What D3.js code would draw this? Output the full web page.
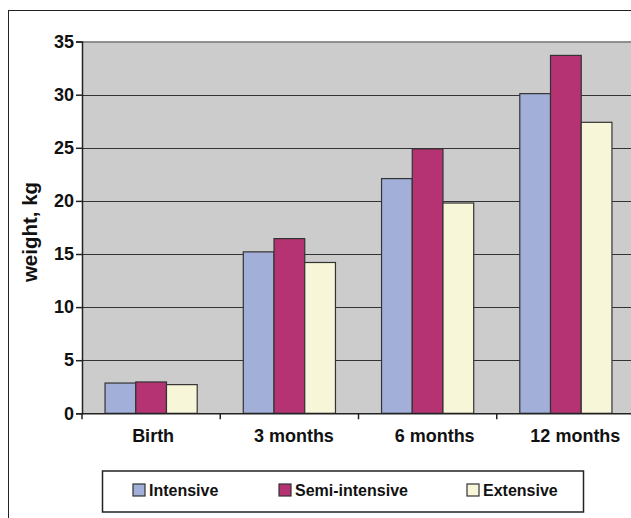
<!DOCTYPE html>
<html>
<head>
<meta charset="utf-8">
<script src="https://cdn.jsdelivr.net/npm/d3@7"></script>
<style>
  html, body { margin: 0; padding: 0; background: #fff; }
  svg { display: block; }
  text { font-family: Arial, "Liberation Sans", sans-serif; font-weight: bold; fill: #111; }
</style>
</head>
<body>
<svg id="chart" width="631" height="518"></svg>
<script>
// Lamb body weight by age and management system
const categories = ["Birth", "3 months", "6 months", "12 months"];
const seriesNames = ["Intensive", "Semi-intensive", "Extensive"];
const intensive = [2.85, 15.2, 22.1, 30.1];
const semiIntensive = [2.95, 16.45, 24.9, 33.7];
const extensive = [2.7, 14.2, 19.8, 27.4];
const yTicks = [0, 5, 10, 15, 20, 25, 30, 35];
const colors = ["#a2afd9", "#b53373", "#f8f6d8"];

const seriesValues = [intensive, semiIntensive, extensive];

const svg = d3.select("#chart");

// outer frame
svg.append("rect")
  .attr("x", 8.5).attr("y", 10.5)
  .attr("width", 640).attr("height", 520)
  .attr("fill", "none").attr("stroke", "#222").attr("stroke-width", 1);

const plot = { left: 82, right: 635, top: 41.6, bottom: 413.3 };

const x = d3.scaleBand().domain(categories)
  .range([plot.left, plot.right]).paddingInner(0).paddingOuter(0);
const y = d3.scaleLinear().domain([0, 35]).range([plot.bottom, plot.top]);

// plot background
svg.append("rect")
  .attr("x", plot.left).attr("y", plot.top)
  .attr("width", plot.right - plot.left).attr("height", plot.bottom - plot.top)
  .attr("fill", "#cccccc");

// top edge of plot area
svg.append("line")
  .attr("x1", plot.left).attr("x2", plot.right)
  .attr("y1", plot.top + 0.5).attr("y2", plot.top + 0.5)
  .attr("stroke", "#777").attr("stroke-width", 1.5);

// gridlines
svg.append("g").selectAll("line")
  .data(yTicks.filter(t => t > 0 && t < 35))
  .join("line")
  .attr("x1", plot.left).attr("x2", plot.right)
  .attr("y1", d => Math.round(y(d)) + 0.5).attr("y2", d => Math.round(y(d)) + 0.5)
  .attr("stroke", "#333").attr("stroke-width", 1);

// bars: gap width 150% of a bar
const barW = x.bandwidth() / 4.5;
const inner = d3.scaleBand().domain(seriesNames)
  .range([barW * 0.75, barW * 3.75]);

const groups = svg.append("g").selectAll("g")
  .data(categories)
  .join("g")
  .attr("transform", d => `translate(${x(d)},0)`);

groups.selectAll("rect")
  .data((c, i) => seriesNames.map((s, j) => ({ s, j, v: seriesValues[j][i] })))
  .join("rect")
  .attr("x", d => inner(d.s))
  .attr("width", inner.bandwidth())
  .attr("y", d => y(d.v))
  .attr("height", d => y(0) - y(d.v))
  .attr("fill", d => colors[d.j])
  .attr("stroke", "#333").attr("stroke-width", 1.2);

// y axis
const yAxis = svg.append("g")
  .attr("transform", `translate(${plot.left},0)`)
  .call(d3.axisLeft(y).tickValues(yTicks).tickSize(6).tickPadding(2));
yAxis.select(".domain").attr("stroke", "#222").attr("stroke-width", 1.5);
yAxis.selectAll(".tick line").attr("stroke", "#222").attr("stroke-width", 1.5);
yAxis.selectAll("text").style("font-size", "18px").attr("fill", "#111");

// x axis (labels drift slightly right toward the plot's far edge)
const xAxis = svg.append("g")
  .attr("transform", `translate(0,${plot.bottom})`)
  .call(d3.axisBottom(x).tickSize(0).tickPadding(16));
xAxis.select(".domain").attr("stroke", "#222").attr("stroke-width", 1.5);
xAxis.selectAll("text")
  .style("font-size", "18px").attr("fill", "#111")
  .attr("dx", (d, i) => 2 + i * 2.5);
svg.append("g").selectAll("line")
  .data(categories.concat([null]))
  .join("line")
  .attr("x1", (d, i) => plot.left + i * x.step())
  .attr("x2", (d, i) => plot.left + i * x.step())
  .attr("y1", plot.bottom).attr("y2", plot.bottom + 6)
  .attr("stroke", "#222").attr("stroke-width", 1.5);

// y axis title
svg.append("text")
  .attr("transform", "translate(37,232) rotate(-90)")
  .attr("text-anchor", "middle")
  .style("font-size", "20.5px")
  .text("weight, kg");

// legend
const legend = svg.append("g");
legend.append("rect")
  .attr("x", 102.5).attr("y", 471)
  .attr("width", 481).attr("height", 41)
  .attr("fill", "#fff").attr("stroke", "#222").attr("stroke-width", 1.5);
const legendX = [133, 279, 467];
const items = legend.selectAll("g.item")
  .data(seriesNames)
  .join("g").attr("class", "item")
  .attr("transform", (d, i) => `translate(${legendX[i]},484)`);
items.append("rect")
  .attr("width", 12).attr("height", 12)
  .attr("fill", (d, i) => colors[i])
  .attr("stroke", "#333").attr("stroke-width", 1.2);
items.append("text")
  .attr("x", 16).attr("y", 11.7)
  .style("font-size", "16px")
  .text(d => d);
</script>
</body>
</html>
